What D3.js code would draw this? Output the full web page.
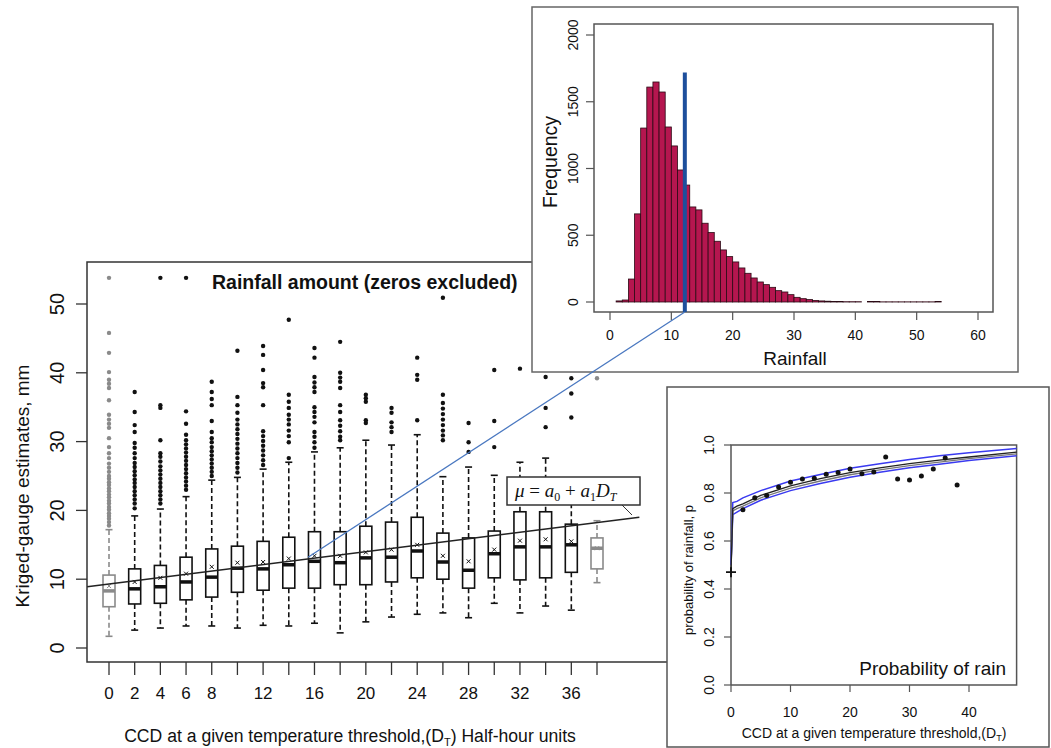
<!DOCTYPE html>
<html><head><meta charset="utf-8">
<script src="https://cdn.jsdelivr.net/npm/d3@7"></script>
<style>
body{margin:0;background:#fff}
svg{display:block}
text{font-family:"Liberation Sans",Arial,sans-serif;fill:#111}
</style>
</head><body>
<svg id="c" width="1051" height="748"></svg>
<script>
// ---------- main box plot data ----------
const ccdValues   = [0,2,4,6,8,10,12,14,16,18,20,22,24,26,28,30,32,34,36,38];
const ccdTickLabels = [0,2,4,6,8,12,16,20,24,28,32,36];
const whiskerLow  = [1.7,2.6,2.9,3.2,3.2,2.9,3.3,3.2,3.6,2.2,3.8,4.5,4.9,5.1,4.4,6.5,5.1,6.1,5.5,9.5];
const boxQ1       = [6.0,6.4,6.5,7.0,7.4,8.1,8.4,8.7,8.7,9.2,9.2,9.6,10.2,10.0,8.7,10.2,9.9,10.2,11.0,11.5];
const boxMedian   = [8.3,8.6,8.9,9.6,10.3,11.6,11.5,12.1,12.6,12.4,13.1,13.2,14.1,12.5,11.3,13.7,14.7,14.7,15.0,14.5];
const boxQ3       = [10.6,11.5,12.0,13.2,14.4,14.8,15.5,16.1,16.9,16.9,17.7,18.3,19.0,16.7,16.0,17.0,19.8,19.8,18.0,16.0];
const whiskerHigh = [17.2,19.2,20.2,22.0,24.4,24.8,26.0,27.0,28.5,29.1,30.2,29.5,31.0,24.9,26.3,25.1,27.0,27.6,24.0,18.5];
const boxMean     = [9.0,9.6,10.2,10.8,11.8,12.4,12.5,13.0,13.4,13.4,13.9,14.3,15.0,13.4,12.6,14.3,15.6,15.8,15.5,14.5];
const greyBoxes   = [0,19];
const outlierValues = [
  [17.8,18.3,18.8,19.2,19.6,20.1,20.5,21,21.4,21.9,22.3,22.8,23.2,23.7,24.1,24.6,25.0,25.6,26.2,26.8,27.6,28.3,29.2,30.5,32.0,32.6,33.2,33.9,36.0,37.8,38.4,39.0,40.1,42.9,45.8,53.8],
  [20.3,21,21.6,22.2,22.8,23.4,24,24.5,25.1,25.7,26.3,26.9,27.6,28.3,29.1,29.8,31.4,32.4,34.3,37.2],
  [21,21.6,22.2,22.8,23.4,24,24.6,25.2,25.8,26.4,27.1,27.8,28.3,30.2,34.9,35.3,53.8],
  [23,23.6,24.2,24.8,25.4,26,26.6,27.2,27.8,28.4,29,29.6,30.2,31,32.6,34.4,53.8],
  [25,25.6,26.2,26.8,27.4,28,28.6,29.2,29.9,30.5,31.4,33,35.3,36.2,37.2,38.7],
  [25.5,26.2,26.9,27.6,28.3,29,29.7,30.4,31.1,31.8,32.5,33.2,34.2,35.3,36.5,43.2],
  [26.6,27.3,28,28.7,29.4,30.1,30.8,31.5,35.3,37.9,38.5,40.4,42.6,43.9],
  [27.6,29.9,30.8,31.6,32.5,33.2,33.9,34.9,35.8,36.8,47.7],
  [29.1,29.9,30.7,31.4,32.8,33.6,34.3,35,37.2,37.9,38.6,39.4,42.2,43.6],
  [30.2,30.7,31.5,32.3,33.1,34.3,35.3,37.8,38.7,39.3,40,44.5],
  [32.7,33.1,35.8,36.3,36.8],
  [31.4,32.1,32.8,34.2,34.9],
  [33.1,39,39.7,42.2],
  [30.2,30.9,31.6,32.4,33.2,34.0,34.8,35.6,36.8,50.9],
  [28.5,29.9,32.7],
  [29.2,33.0,40.4],
  [40.6],
  [32.1,34.9,39.4],
  [33.5,37.0,39.2],
  [39.2]
];
const mainYTicks = [0,10,20,30,40,50];
const regressionD = [-1.7, 41.3];
const regressionMu = [8.9, 19.0];

// ---------- histogram data ----------
const rainBinStart = [1,2,3,4,5,6,7,8,9,10,11,12,13,14,15,16,17,18,19,20,21,22,23,24,25,26,27,28,29,30,31,32,33,34,35,36,37,38,39,40,41,42,43,44,45,46,47,48,49,50,51,52,53];
const rainFreq     = [8,15,172,660,1303,1610,1648,1573,1311,1169,989,876,712,690,590,520,455,390,340,300,255,215,180,150,130,110,85,75,55,35,25,18,12,8,6,3,3,2,2,2,0,4,4,1,1,1,1,1,1,1,1,1,3];
const histXTicks = [0,10,20,30,40,50,60];
const histYTicks = [0,500,1000,1500,2000];
const meanRainfall = 12.2;
const meanLineTop = 1720;
const connectorTarget = {d:15.5, v:13.2};

// ---------- probability data ----------
const probD   = [0,2,4,6,8,10,12,14,16,18,20,22,24,26,28,30,32,34,36,38];
const probObs = [0.47,0.73,0.78,0.79,0.825,0.845,0.858,0.861,0.878,0.885,0.9,0.88,0.888,0.95,0.858,0.854,0.871,0.9,0.946,0.833];
const curveD     = [0,0.3,1,2,5,10,15,20,25,30,35,40,48];
const curveFit   = [0.47,0.735,0.745,0.755,0.79,0.83,0.86,0.885,0.905,0.922,0.937,0.95,0.97];
const curveFit2  = [0.47,0.725,0.735,0.745,0.78,0.82,0.85,0.876,0.896,0.914,0.929,0.943,0.963];
const curveUpper = [0.50,0.76,0.765,0.78,0.81,0.85,0.877,0.903,0.922,0.94,0.955,0.968,0.985];
const curveLower = [0.50,0.71,0.72,0.735,0.77,0.81,0.84,0.866,0.886,0.905,0.92,0.935,0.955];
const probXTicks = [0,10,20,30,40];
const probYTicks = [0,0.2,0.4,0.6,0.8,1.0];

const svg = d3.select("#c");

// ================= MAIN PLOT =================
const xM = d3.scaleLinear().domain([0,38]).range([109,597]);
const yM = d3.scaleLinear().domain([0,50]).range([648,304]);
const main = svg.append("g");
const frame = {l:87, t:262, r:667, b:662};
main.append("path").attr("d",`M${frame.r},${frame.t}H${frame.l}V${frame.b}H${frame.r}`)
  .attr("fill","none").attr("stroke","#333").attr("stroke-width",1.5);

// y axis
const yAx = main.append("g").attr("transform",`translate(${frame.l-11},0)`);
mainYTicks.forEach(t=>{
  yAx.append("line").attr("x1",0).attr("x2",11).attr("y1",yM(t)).attr("y2",yM(t)).attr("stroke","#333").attr("stroke-width",1.3);
  yAx.append("text").attr("transform",`translate(-19,${yM(t)}) rotate(-90)`).attr("text-anchor","middle")
    .attr("dy","0.35em").style("font-size","20px").text(t);
});
main.append("text").attr("transform","translate(22,486) rotate(-90)").attr("text-anchor","middle")
  .attr("dy","0.35em").style("font-size","19px").text("Kriged-gauge estimates, mm");

// x axis ticks
ccdValues.forEach(d=>{
  main.append("line").attr("x1",xM(d)).attr("x2",xM(d)).attr("y1",frame.b).attr("y2",frame.b+13).attr("stroke","#333").attr("stroke-width",1.3);
});
ccdTickLabels.forEach(d=>{
  main.append("text").attr("x",xM(d)).attr("y",693).attr("dy","0.35em").attr("text-anchor","middle")
    .style("font-size","17px").text(d);
});
const xt = main.append("text").attr("x",350).attr("y",736).attr("dy","0.35em").attr("text-anchor","middle").style("font-size","17.6px");
xt.append("tspan").text("CCD at a given temperature threshold,(D");
xt.append("tspan").attr("dy","4").style("font-size","11px").text("T");
xt.append("tspan").attr("dy","-4").text(") Half-hour units");

main.append("text").attr("x",212).attr("y",282).attr("dy","0.35em").style("font-size","19.5px").style("font-weight","bold")
  .text("Rainfall amount (zeros excluded)");

// boxes
ccdValues.forEach((d,i)=>{
  const col = greyBoxes.includes(i) ? "#8a8a8a" : "#111";
  const g = main.append("g");
  const cx = xM(d), hw = 6;
  outlierValues[i].forEach(v=>{
    g.append("circle").attr("cx",cx).attr("cy",yM(v)).attr("r",2.2).attr("fill",col);
  });
  g.append("line").attr("x1",cx).attr("x2",cx).attr("y1",yM(boxQ3[i])).attr("y2",yM(whiskerHigh[i]))
    .attr("stroke",col).attr("stroke-width",1.6).attr("stroke-dasharray","5,3");
  g.append("line").attr("x1",cx).attr("x2",cx).attr("y1",yM(boxQ1[i])).attr("y2",yM(whiskerLow[i]))
    .attr("stroke",col).attr("stroke-width",1.6).attr("stroke-dasharray","5,3");
  [whiskerHigh[i],whiskerLow[i]].forEach(v=>{
    g.append("line").attr("x1",cx-3.5).attr("x2",cx+3.5).attr("y1",yM(v)).attr("y2",yM(v)).attr("stroke",col).attr("stroke-width",1.6);
  });
  g.append("rect").attr("x",cx-hw).attr("y",yM(boxQ3[i])).attr("width",hw*2).attr("height",yM(boxQ1[i])-yM(boxQ3[i]))
    .attr("fill","#fff").attr("stroke",col).attr("stroke-width",1.6);
  g.append("line").attr("x1",cx-hw).attr("x2",cx+hw).attr("y1",yM(boxMedian[i])).attr("y2",yM(boxMedian[i]))
    .attr("stroke",col).attr("stroke-width",3.5);
  const my = yM(boxMean[i]);
  g.append("path").attr("d",`M${cx-2},${my-2}L${cx+2},${my+2}M${cx-2},${my+2}L${cx+2},${my-2}`).attr("stroke",col).attr("stroke-width",1);
});

// regression line
main.append("line").attr("x1",xM(regressionD[0])).attr("y1",yM(regressionMu[0]))
  .attr("x2",xM(regressionD[1])).attr("y2",yM(regressionMu[1])).attr("stroke","#222").attr("stroke-width",1.6);

// equation label
const eq = main.append("g");
eq.append("line").attr("x1",622).attr("y1",505).attr("x2",632).attr("y2",515).attr("stroke","#333").attr("stroke-width",1);
eq.append("rect").attr("x",507).attr("y",477).attr("width",133).attr("height",28).attr("fill","#fff").attr("stroke","#333").attr("stroke-width",1.5);
const et = eq.append("text").attr("x",515).attr("y",497).style("font-family","'Liberation Serif','DejaVu Serif',serif").style("font-size","19px");
et.append("tspan").style("font-style","italic").text("μ");
et.append("tspan").text(" = ");
et.append("tspan").style("font-style","italic").text("a");
et.append("tspan").attr("dy",4).style("font-size","12px").text("0");
et.append("tspan").attr("dy",-4).text(" + ");
et.append("tspan").style("font-style","italic").text("a");
et.append("tspan").attr("dy",4).style("font-size","12px").text("1");
et.append("tspan").attr("dy",-4).style("font-style","italic").text("D");
et.append("tspan").attr("dy",4).style("font-size","12px").style("font-style","italic").text("T");

// ================= HISTOGRAM INSET =================
const hist = svg.append("g");
hist.append("rect").attr("x",532).attr("y",7).attr("width",486).attr("height",365).attr("fill","#fff").attr("stroke","#666").attr("stroke-width",1.5);
const xH = d3.scaleLinear().domain([0,60]).range([610,978]);
const yH = d3.scaleLinear().domain([0,2000]).range([302,35]);
hist.selectAll("rect.bar").data(rainBinStart).enter().append("rect").attr("class","bar")
  .attr("x",d=>xH(d)).attr("width",d=>xH(d+1)-xH(d))
  .attr("y",(d,i)=>yH(rainFreq[i])).attr("height",(d,i)=>yH(0)-yH(rainFreq[i]))
  .attr("fill","#b5164f").attr("stroke","#2a0a14").attr("stroke-width",0.8);
hist.append("rect").attr("x",594).attr("y",24).attr("width",399).attr("height",288).attr("fill","none").attr("stroke","#555").attr("stroke-width",1.5);
histYTicks.forEach(t=>{
  hist.append("line").attr("x1",586).attr("x2",594).attr("y1",yH(t)).attr("y2",yH(t)).attr("stroke","#555").attr("stroke-width",1.2);
  hist.append("text").attr("transform",`translate(573,${yH(t)}) rotate(-90)`).attr("text-anchor","middle").attr("dy","0.35em")
    .style("font-size","14px").text(t);
});
histXTicks.forEach(t=>{
  hist.append("line").attr("x1",xH(t)).attr("x2",xH(t)).attr("y1",312).attr("y2",320).attr("stroke","#555").attr("stroke-width",1.2);
  hist.append("text").attr("x",xH(t)).attr("y",335).attr("dy","0.35em").attr("text-anchor","middle").style("font-size","14px").text(t);
});
hist.append("text").attr("x",795).attr("y",358).attr("dy","0.35em").attr("text-anchor","middle").style("font-size","19px").text("Rainfall");
hist.append("text").attr("transform","translate(550,162) rotate(-90)").attr("text-anchor","middle").attr("dy","0.35em").style("font-size","19.5px").text("Frequency");
hist.append("line").attr("x1",xH(meanRainfall)).attr("x2",xH(meanRainfall)).attr("y1",yH(meanLineTop)).attr("y2",312)
  .attr("stroke","#1d4f9c").attr("stroke-width",4);

// connector
svg.append("line").attr("x1",xH(meanRainfall)).attr("y1",312).attr("x2",xM(connectorTarget.d)).attr("y2",yM(connectorTarget.v))
  .attr("stroke","#4a78c0").attr("stroke-width",1.3);

// ================= PROBABILITY INSET =================
const prob = svg.append("g");
prob.append("rect").attr("x",667).attr("y",387).attr("width",382).attr("height",360).attr("fill","#fff").attr("stroke","#555").attr("stroke-width",1.5);
const xP = d3.scaleLinear().domain([0,40]).range([731,969]);
const yP = d3.scaleLinear().domain([0,1]).range([685,445]);
prob.append("path").attr("d",`M731,685V445H${xP(48)}V685H731`).attr("fill","none").attr("stroke","#555").attr("stroke-width",1.5);
probYTicks.forEach(t=>{
  prob.append("line").attr("x1",724).attr("x2",731).attr("y1",yP(t)).attr("y2",yP(t)).attr("stroke","#555").attr("stroke-width",1.2);
  prob.append("text").attr("transform",`translate(709,${yP(t)}) rotate(-90)`).attr("text-anchor","middle").attr("dy","0.35em")
    .style("font-size","14px").text(t.toFixed(1));
});
probXTicks.forEach(t=>{
  prob.append("line").attr("x1",xP(t)).attr("x2",xP(t)).attr("y1",685).attr("y2",692).attr("stroke","#555").attr("stroke-width",1.2);
  prob.append("text").attr("x",xP(t)).attr("y",712).attr("dy","0.35em").attr("text-anchor","middle").style("font-size","14px").text(t);
});
const pxt = prob.append("text").attr("x",874).attr("y",733).attr("dy","0.35em").attr("text-anchor","middle").style("font-size","14px");
pxt.append("tspan").text("CCD at a given temperature threshold,(D");
pxt.append("tspan").attr("dy",3).style("font-size","9px").text("T");
pxt.append("tspan").attr("dy",-3).text(")");
prob.append("text").attr("transform","translate(688,570) rotate(-90)").attr("text-anchor","middle").attr("dy","0.35em")
  .style("font-size","13px").text("probability of rainfall, p");
prob.append("text").attr("x",1006).attr("y",668).attr("dy","0.35em").attr("text-anchor","end").style("font-size","19px").style("font-weight","500").text("Probability of rain");

const ln = d3.line().x(d=>xP(d[0])).y(d=>yP(d[1]));
const mk = arr => curveD.map((d,i)=>[d,arr[i]]);
prob.append("path").attr("d",ln(mk(curveUpper))).attr("fill","none").attr("stroke","#3a3af0").attr("stroke-width",1.5);
prob.append("path").attr("d",ln(mk(curveLower))).attr("fill","none").attr("stroke","#3a3af0").attr("stroke-width",1.5);
prob.append("path").attr("d",ln(mk(curveFit2))).attr("fill","none").attr("stroke","#777").attr("stroke-width",1.3);
prob.append("path").attr("d",ln(mk(curveFit))).attr("fill","none").attr("stroke","#222").attr("stroke-width",1.3);
probD.forEach((d,i)=>{
  if(i===0){
    prob.append("path").attr("d",`M${xP(d)-5},${yP(probObs[i])}h10M${xP(d)},${yP(probObs[i])-5}v10`).attr("stroke","#111").attr("stroke-width",1.8);
  } else {
    prob.append("circle").attr("cx",xP(d)).attr("cy",yP(probObs[i])).attr("r",2.5).attr("fill","#111");
  }
});
</script>
</body></html>
